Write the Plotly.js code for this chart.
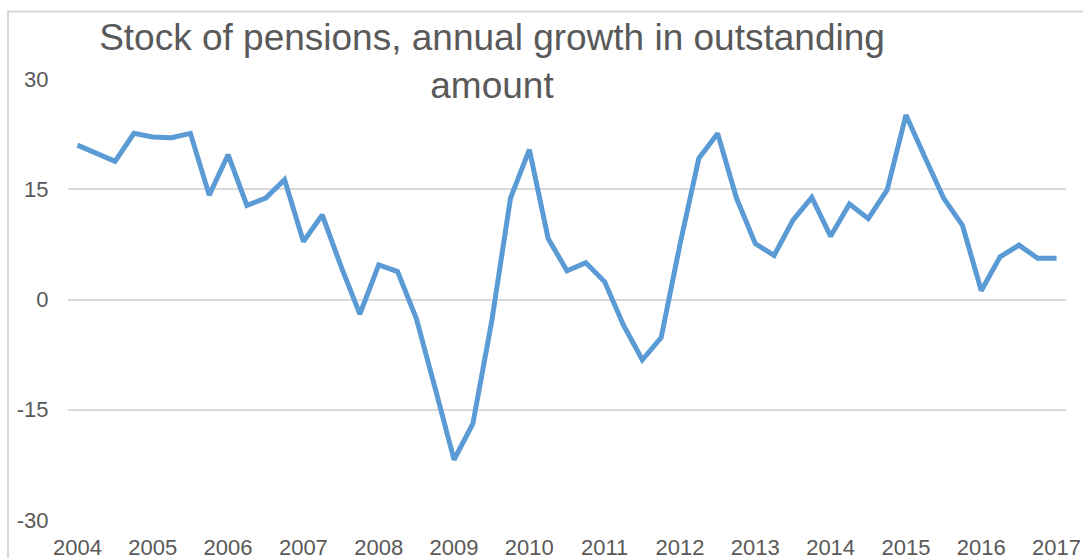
<!DOCTYPE html>
<html>
<head>
<meta charset="utf-8">
<script src="https://cdn.plot.ly/plotly-3.0.1.min.js"></script>
<style>
  html, body { margin: 0; padding: 0; background: #ffffff; }
  #chart { width: 1083px; height: 558px; }
</style>
</head>
<body>
<div id="chart"></div>
<script>
// Quarterly periods, 2004Q1 .. 2017Q1
const years = [2004, 2005, 2006, 2007, 2008, 2009, 2010, 2011, 2012, 2013, 2014, 2015, 2016, 2017];
const quarters = ["Q1", "Q2", "Q3", "Q4"];
const periods = [];
years.forEach(y => quarters.forEach(q => { if (!(y === 2017 && q !== "Q1")) periods.push(y + q); }));

// Annual growth in outstanding amount (%)
const growth = [
  21.0, 19.9, 18.8, 22.6,
  22.1, 22.0, 22.6, 14.2,
  19.7, 12.8, 13.8, 16.3,
  7.9, 11.5, 4.5, -2.0,
  4.7, 3.8, -2.6, -12.1,
  -21.8, -16.9, -3.0, 13.8,
  20.4, 8.3, 3.9, 5.0,
  2.4, -3.5, -8.2, -5.2,
  7.5, 19.2, 22.6, 13.8,
  7.6, 6.0, 10.8, 13.9,
  8.6, 13.0, 11.0, 14.9,
  25.1, 19.4, 13.8, 10.1,
  1.2, 5.8, 7.4, 5.6,
  5.6
];

const yTicks = [-30, -15, 0, 15, 30];
const xTickVals = years.map(y => y + "Q1");
const xTickText = years.map(String);

const trace = {
  type: "scatter",
  mode: "lines",
  x: periods,
  y: growth,
  line: { color: "#5B9BD5", width: 5, shape: "linear" },
  hoverinfo: "x+y"
};

const layout = {
  width: 1083,
  height: 558,
  margin: { l: 68, r: 17, t: 79, b: 38, pad: 0 },
  paper_bgcolor: "#ffffff",
  plot_bgcolor: "#ffffff",
  showlegend: false,
  font: { family: "Liberation Sans, Arial, sans-serif", color: "#595959" },
  title: {
    text: "Stock of pensions, annual growth in outstanding<br>amount",
    font: { family: "Liberation Sans, Arial, sans-serif", size: 37, color: "#595959" },
    x: 0.4543, xanchor: "center", xref: "container",
    y: 0.9105, yanchor: "top", yref: "container"
  },
  xaxis: {
    type: "category",
    categoryorder: "array",
    categoryarray: periods,
    range: [-0.5, periods.length - 0.5],
    tickmode: "array",
    tickvals: xTickVals,
    ticktext: xTickText,
    ticks: "outside",
    ticklen: 8,
    tickcolor: "rgba(0,0,0,0)",
    tickfont: { size: 22, color: "#595959" },
    showgrid: false,
    showline: false,
    zeroline: false,
    fixedrange: true
  },
  yaxis: {
    range: [-30, 30],
    tickmode: "array",
    tickvals: yTicks,
    ticktext: yTicks.map(String),
    ticks: "outside",
    ticklen: 14,
    tickcolor: "rgba(0,0,0,0)",
    tickfont: { size: 22, color: "#595959" },
    showgrid: true,
    gridcolor: "#d9d9d9",
    gridwidth: 2,
    showline: false,
    zeroline: false,
    fixedrange: true
  },
  shapes: [{
    type: "rect",
    xref: "paper", yref: "paper",
    x0: -0.0601, x1: 1.2,
    y0: -0.3, y1: 1.1528,
    line: { color: "#d9d9d9", width: 2 },
    fillcolor: "rgba(0,0,0,0)",
    layer: "below"
  }]
};

Plotly.newPlot("chart", [trace], layout, { displayModeBar: false, staticPlot: true });
</script>
</body>
</html>
